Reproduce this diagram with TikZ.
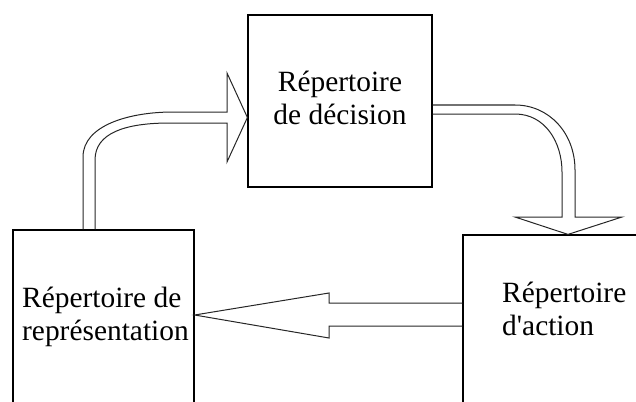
\documentclass[tikz,border=0pt]{standalone}
\usepackage{fontspec}
\setmainfont{Liberation Serif}
\begin{document}
\begin{tikzpicture}[x=1pt,y=-1pt,
  box/.style={draw=black,line width=1.2pt,rectangle,inner sep=0pt,fill=none},
  blockarrow/.style={draw=black!85,line width=1pt,line join=miter},
  lbl/.style={inner sep=0pt,font=\fontsize{29.4}{33}\selectfont}]
\useasboundingbox (0,0) rectangle (636,401);
\clip (0,0) rectangle (636,401);
% boxes
\node[box,minimum width=184pt,minimum height=172pt] (dec) at (340,101) {};
\node[box,minimum width=181pt,minimum height=210pt] (rep) at (103.5,335) {};
\node[box,minimum width=217pt,minimum height=205pt] (act) at (571.5,337.5) {};
% labels
\node[lbl,anchor=base] (decl) at (340,92) {\begin{tabular}[t]{@{}c@{}}Répertoire\\de décision\end{tabular}};
\node[lbl,anchor=base west] (repl) at (22,307) {\begin{tabular}[t]{@{}l@{}}Répertoire de\\représentation\end{tabular}};
\node[lbl,anchor=base west] (actl) at (502,302) {\begin{tabular}[t]{@{}l@{}}Répertoire\\d\textquotesingle action\end{tabular}};
% block arrow: representation -> decision
\coordinate (a1s) at (rep.north -| 83,0);
\coordinate (a1e) at (rep.north -| 95,0);
\draw[blockarrow] (a1s) -- (83,157) .. controls (83,125) and (130,112) .. (173,112)
  -- (227,112) -- (227,73) -- (dec.west |- 0,117.5) -- (227,162) -- (227,123) -- (170,123)
  .. controls (125,123) and (95,133) .. (95,160) -- (a1e);
% block arrow: decision -> action
\draw[blockarrow] (dec.east |- 0,105) -- (515,105) .. controls (549,105) and (575,133) .. (575,170)
  -- (575,217) -- (622,217) -- (act.north -| 568,0) -- (515,217) -- (562,217) -- (562,172)
  .. controls (562,142) and (545,114) .. (515,114) -- (dec.east |- 0,114);
% block arrow: action -> representation
\draw[blockarrow] (act.west |- 0,303) -- (329,303) -- (329,293) -- (rep.east |- 0,315)
  -- (329,338) -- (329,326) -- (act.west |- 0,326);
\end{tikzpicture}
\end{document}
